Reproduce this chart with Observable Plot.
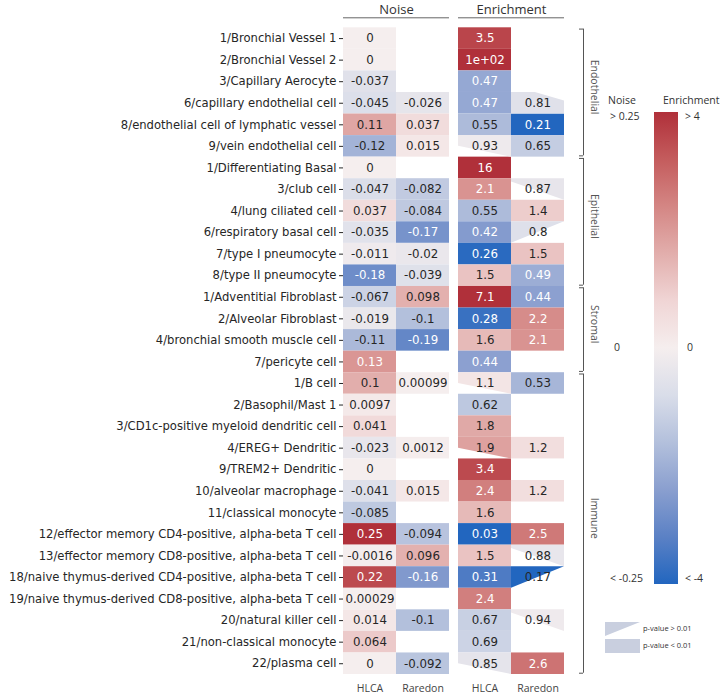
<!DOCTYPE html>
<html><head><meta charset="utf-8">
<script src="https://cdn.jsdelivr.net/npm/d3@7"></script>
<script src="https://cdn.jsdelivr.net/npm/@observablehq/plot@0.6"></script>
<style>
body{margin:0;background:#fff;}
#wrap{position:relative;width:726px;height:694px;overflow:hidden;}
#wrap svg{position:absolute;left:0;top:0;}
</style></head><body><div id="wrap"></div>
<script>
const rows = [
"1/Bronchial Vessel 1","2/Bronchial Vessel 2","3/Capillary Aerocyte","6/capillary endothelial cell",
"8/endothelial cell of lymphatic vessel","9/vein endothelial cell","1/Differentiating Basal","3/club cell",
"4/lung ciliated cell","6/respiratory basal cell","7/type I pneumocyte","8/type II pneumocyte",
"1/Adventitial Fibroblast","2/Alveolar Fibroblast","4/bronchial smooth muscle cell","7/pericyte cell",
"1/B cell","2/Basophil/Mast 1","3/CD1c-positive myeloid dendritic cell","4/EREG+ Dendritic",
"9/TREM2+ Dendritic","10/alveolar macrophage","11/classical monocyte",
"12/effector memory CD4-positive, alpha-beta T cell","13/effector memory CD8-positive, alpha-beta T cell",
"18/naive thymus-derived CD4-positive, alpha-beta T cell","19/naive thymus-derived CD8-positive, alpha-beta T cell",
"20/natural killer cell","21/non-classical monocyte","22/plasma cell"];
const groupNames = ["Endothelial","Epithelial","Stromal","Immune"];
const groupFirstRow = [0, 6, 12, 16];
const groupLastRow = [5, 11, 15, 29];
const blockNames = ["Noise","Enrichment"];
const columnNames = ["HLCA","Raredon","HLCA","Raredon"];

const noiseHLCA = [0,0,-0.037,-0.045,0.11,-0.12,0,-0.047,0.037,-0.035,-0.011,-0.18,-0.067,-0.019,-0.11,0.13,
  0.1,0.0097,0.041,-0.023,0,-0.041,-0.085,0.25,-0.0016,0.22,0.00029,0.014,0.064,0];
const noiseRaredon = [null,null,null,-0.026,0.037,0.015,null,-0.082,-0.084,-0.17,-0.02,-0.039,0.098,-0.1,-0.19,null,
  0.00099,null,null,0.0012,null,0.015,null,-0.094,0.096,-0.16,null,-0.1,null,-0.092];
const enrichHLCA = [3.5,100,0.47,0.47,0.55,0.93,16,2.1,0.55,0.42,0.26,1.5,7.1,0.28,1.6,0.44,
  1.1,0.62,1.8,1.9,3.4,2.4,1.6,0.03,1.5,0.31,2.4,0.67,0.69,0.85];
const enrichRaredon = [null,null,null,0.81,0.21,0.65,null,0.87,1.4,0.8,1.5,0.49,0.44,2.2,2.1,null,
  0.53,null,null,1.2,null,1.2,null,2.5,0.88,0.17,null,0.94,null,2.6];
// rows whose p-value > 0.01 (drawn as cut cells), with the cut style seen in the figure
const pHighEnrichHLCA = [5,16,19,29];
const pHighEnrichHLCACut = ["lowerLeft","lowerLeft","lowerLeft","lowerLeft"];
const pHighEnrichRaredon = [3,7,9,24,25,27];
const pHighEnrichRaredonCut = ["cornerTR","lowerLeftThin","lowerRight","lowerLeftThin","lowerRight","lowerLeftThin"];

const noiseLimit = 0.25;   // legend: > 0.25 / < -0.25
const enrichLimit = 4;     // legend: > 4 / < -4 (fold)

const colorDomain = [-1,-0.8,-0.6,-0.4,-0.2,0,0.2,0.4,0.6,0.8,1];
const colorRange = ["#2266bf","#5b81c5","#8a9fcf","#b3c0dc","#d9dde9","#f5eeee","#f0d5d5","#e2aeac","#d48684","#c45c5d","#b0303a"];

// outline of the coloured part of a cut cell: [xFrac, topFrac, bottomFrac]
const cutShapes = {
  lowerRight: [[0, 0, 1], [1, 0, 0]],
  lowerLeft: [[0, 0, 0.5], [1, 0, 1]],
  lowerLeftThin: [[0, 0, 0.15], [1, 0, 1]],
  cornerTR: [[0, 0, 1], [0.45, 0, 1], [1, 0.4, 1]]
};

const gap = 9/53;
const colX = [0, 1, 2 + gap, 3 + gap];
const xMax = 4 + gap;
const unit = (564 - 343) / xMax;

function fmt(v){
  let s = v.toPrecision(2);
  if (s.includes("e")) {
    let [m, e] = s.split("e");
    if (m.includes(".")) m = m.replace(/0+$/,"").replace(/\.$/,"");
    const sign = e[0] === "-" ? "-" : "+";
    let d = e.replace(/^[+-]/,"");
    if (d.length < 2) d = "0" + d;
    return m + "e" + sign + d;
  }
  if (s.includes(".")) s = s.replace(/0+$/,"").replace(/\.$/,"");
  return s;
}
const clamp = v => Math.max(-1, Math.min(1, v));

const cells = [];
const series = [noiseHLCA, noiseRaredon, enrichHLCA, enrichRaredon];
series.forEach((arr, c) => {
  arr.forEach((v, i) => {
    if (v === null) return;
    const u = c < 2 ? clamp(v / noiseLimit) : clamp(Math.log2(v) / Math.log2(enrichLimit));
    let cut = null;
    if (c === 2 && pHighEnrichHLCA.includes(i)) cut = pHighEnrichHLCACut[pHighEnrichHLCA.indexOf(i)];
    if (c === 3 && pHighEnrichRaredon.includes(i)) cut = pHighEnrichRaredonCut[pHighEnrichRaredon.indexOf(i)];
    cells.push({row: i, col: c, x1: colX[c], x2: colX[c] + 1, y1: i, y2: i + 1, u, label: fmt(v), ns: cut !== null, cut});
  });
});
const triPts = [];
cells.filter(d => d.ns).forEach((d, k) => {
  cutShapes[d.cut].forEach(([fx, t, b]) => triPts.push({id: k, x: d.x1 + fx, ya: d.y1 + t, yb: d.y1 + b, u: d.u}));
});
const groups = groupNames.map((g, k) => ({name: g, y1: groupFirstRow[k] + 0.06, y2: groupLastRow[k] + 1 - 0.06, mid: (groupFirstRow[k] + groupLastRow[k] + 1) / 2 - 0.25}));
const groupEnds = groups.flatMap(g => [{y: g.y1}, {y: g.y2}]);
const blocks = blockNames.map((b, k) => ({name: b, x1: colX[2 * k], x2: colX[2 * k] + 2, xc: colX[2 * k] + 1}));
const colLabels = columnNames.map((n, c) => ({name: n, x: colX[c] + 0.5}));

const dark = "#262626";
const plot = Plot.plot({
  width: 726, height: 694,
  marginLeft: 343, marginRight: 162, marginTop: 27.3, marginBottom: 20,
  style: {fontFamily: "DejaVu Sans", fontSize: "11.6px", color: dark, background: "white"},
  x: {domain: [0, xMax], axis: null},
  y: {domain: [0, 30], reverse: true, axis: null},
  color: {type: "linear", domain: colorDomain, range: colorRange, clamp: true},
  marks: [
    Plot.rect(cells.filter(d => !d.ns), {x1: "x1", x2: "x2", y1: "y1", y2: "y2", fill: "u"}),
    Plot.areaY(triPts, {x: "x", y1: "ya", y2: "yb", z: "id", fill: "u", curve: "linear"}),
    Plot.text(cells.filter(d => !d.ns && Math.abs(d.u) > 0.5), {x: d => d.x1 + 0.5, y: d => d.y1 + 0.5, text: "label", fill: "white", fontSize: 11.8}),
    Plot.text(cells.filter(d => d.ns || Math.abs(d.u) <= 0.5), {x: d => d.x1 + 0.5, y: d => d.y1 + 0.5, text: "label", fill: dark, fontSize: 11.8}),
    Plot.axisY({ticks: d3.range(30).map(i => i + 0.5), tickFormat: d => rows[Math.floor(d)], tickSize: 4, tickPadding: 3, label: null, fontSize: "11.6px"}),
    Plot.text(blocks, {x: "xc", y: 0, dy: -18, text: "name", fontFamily: "Open Sans", fontSize: 13, fill: "#333"}),
    Plot.ruleY(blocks, {y: 0, x1: "x1", x2: "x2", dy: -10, stroke: "#666", strokeWidth: 1}),
    Plot.text(colLabels, {x: "x", y: 30, dy: 14, text: "name", fontFamily: "Open Sans", fontSize: 10.5, fill: "#444"}),
    Plot.ruleX(groups, {x: xMax, y1: "y1", y2: "y2", dx: 19, stroke: "#555", strokeWidth: 1}),
    Plot.ruleY(groupEnds, {y: "y", x1: xMax, x2: xMax + 4 / unit, dx: 15, stroke: "#555", strokeWidth: 1}),
    Plot.text(groups, {x: xMax, y: "mid", dx: 30, rotate: 90, text: "name", fontFamily: "Open Sans", fontSize: 10.5, fill: "#555"})
  ]
});
document.getElementById("wrap").appendChild(plot);

// legend
const svg = d3.select("#wrap").append("svg").attr("width", 726).attr("height", 694).style("pointer-events", "none");
const defs = svg.append("defs");
const grad = defs.append("linearGradient").attr("id", "cb").attr("x1", 0).attr("x2", 0).attr("y1", 0).attr("y2", 1);
colorDomain.map((d, k) => ({off: (1 - d) / 2, c: colorRange[k]})).sort((a, b) => a.off - b.off)
  .forEach(s => grad.append("stop").attr("offset", s.off).attr("stop-color", s.c));
const lg = svg.append("g").attr("font-family", "Open Sans").attr("fill", "#333");
lg.append("rect").attr("x", 654).attr("y", 112).attr("width", 24).attr("height", 472).attr("fill", "url(#cb)");
const tx = (x, y, t, a, fs) => lg.append("text").attr("x", x).attr("y", y).attr("text-anchor", a).attr("dominant-baseline", "middle").attr("font-size", fs).text(t);
tx(622, 101, "Noise", "middle", 10.5);
tx(663, 101, "Enrichment", "start", 10.5);
tx(610, 117, "> " + noiseLimit, "start", 10.5);
tx(685, 117, "> " + enrichLimit, "start", 10.5);
tx(617, 348, "0", "middle", 10.5);
tx(690, 348, "0", "middle", 10.5);
tx(643, 579, "< -" + noiseLimit, "end", 10.5);
tx(685, 579, "< -" + enrichLimit, "start", 10.5);
lg.append("path").attr("d", "M605,622 L640,622 L605,636 Z").attr("fill", "#c9cfdf");
lg.append("rect").attr("x", 605).attr("y", 639).attr("width", 35).attr("height", 14).attr("fill", "#c9cfdf");
tx(643, 629, "p-value > 0.01", "start", 7.5);
tx(643, 646, "p-value < 0.01", "start", 7.5);
</script></body></html>
